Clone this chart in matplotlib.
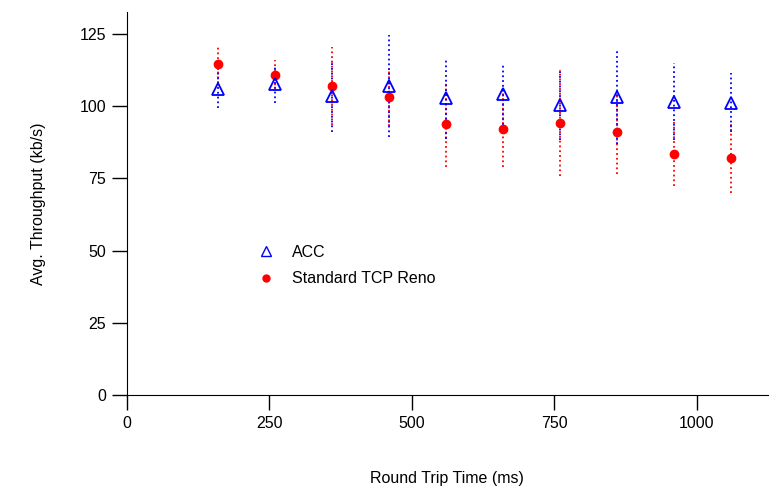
import matplotlib.pyplot as plt
from matplotlib.lines import Line2D

plt.rcParams['font.family'] = ['Liberation Sans', 'DejaVu Sans']

# round trip times (ms)
rtt = [160, 260, 360, 460, 560, 660, 760, 860, 960, 1060]

# ACC mean throughput and spread (kb/s)
acc_mean = [106.0, 107.7, 103.6, 107.0, 102.7, 104.1, 100.4, 103.3, 101.6, 101.2]
acc_err = [6.7, 6.5, 12.4, 17.7, 13.9, 10.7, 12.1, 16.5, 13.2, 10.2]

# standard TCP Reno mean throughput and spread (kb/s)
reno_mean = [114.6, 110.8, 107.0, 103.2, 93.7, 92.1, 94.1, 90.9, 83.4, 82.1]
reno_err = [6.6, 5.2, 13.6, 10.0, 14.6, 13.0, 18.3, 14.4, 11.0, 12.1]

fig = plt.figure(figsize=(7.7, 4.88), dpi=100)
ax = fig.add_axes([0.165, 0.19, 0.832, 0.785])

eb = ax.errorbar(rtt, reno_mean, yerr=reno_err, fmt='o', color='red', ms=6,
                 elinewidth=1.3, capsize=0)
eb[2][0].set_linestyle(':')
ea = ax.errorbar(rtt, acc_mean, yerr=acc_err, fmt='^', color='blue', mfc='none',
                 mec='blue', ms=9, mew=1.3, elinewidth=1.3, capsize=0)
ea[2][0].set_linestyle(':')

ax.set_xlim(0, 1125)
ax.set_ylim(0, 132.5)
ax.set_xticks([0, 250, 500, 750, 1000])
ax.set_yticks([0, 25, 50, 75, 100, 125])
ax.spines['top'].set_visible(False)
ax.spines['right'].set_visible(False)
ax.tick_params(direction='out', length=11, width=1, labelsize=11.5, pad=4)

ax.set_xlabel('Round Trip Time (ms)', fontsize=11.5, labelpad=29)
ax.set_ylabel('Avg. Throughput (kb/s)', fontsize=11.5, labelpad=24)

handles = [
    Line2D([], [], ls='none', marker='^', color='blue', mfc='none', ms=7, mew=1.0),
    Line2D([], [], ls='none', marker='o', color='red', ms=5),
]
ax.legend(handles, ['ACC', 'Standard TCP Reno'], loc='upper left',
          bbox_to_anchor=(0.18, 0.43), frameon=False, fontsize=11.5,
          handlelength=1.2, handletextpad=1.0, labelspacing=0.7)

fig.savefig('out.png', dpi=100)
